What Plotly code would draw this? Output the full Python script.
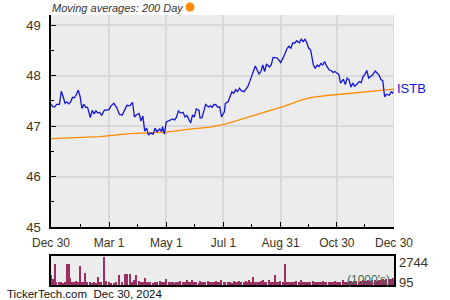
import plotly.graph_objects as go

close_dates = [
    "2023-12-30", "2024-01-01", "2024-01-03", "2024-01-05", "2024-01-08", "2024-01-10", "2024-01-12", "2024-01-14",
    "2024-01-16", "2024-01-18", "2024-01-20", "2024-01-22", "2024-01-24", "2024-01-26", "2024-01-28", "2024-01-30",
    "2024-02-01", "2024-02-03", "2024-02-05", "2024-02-07", "2024-02-10", "2024-02-12", "2024-02-14", "2024-02-16",
    "2024-02-18", "2024-02-20", "2024-02-22", "2024-02-25", "2024-02-27", "2024-03-01", "2024-03-03", "2024-03-06",
    "2024-03-09", "2024-03-12", "2024-03-15", "2024-03-18", "2024-03-20", "2024-03-23", "2024-03-26", "2024-03-28",
    "2024-03-30", "2024-04-02", "2024-04-04", "2024-04-06", "2024-04-08", "2024-04-10", "2024-04-12", "2024-04-14",
    "2024-04-17", "2024-04-19", "2024-04-21", "2024-04-24", "2024-04-26", "2024-04-27", "2024-04-29", "2024-05-01",
    "2024-05-04", "2024-05-06", "2024-05-08", "2024-05-10", "2024-05-12", "2024-05-14", "2024-05-16", "2024-05-19",
    "2024-05-21", "2024-05-23", "2024-05-25", "2024-05-27", "2024-05-29", "2024-05-31", "2024-06-02", "2024-06-05",
    "2024-06-06", "2024-06-08", "2024-06-10", "2024-06-12", "2024-06-15", "2024-06-17", "2024-06-19", "2024-06-21",
    "2024-06-23", "2024-06-25", "2024-06-27", "2024-06-29", "2024-07-02", "2024-07-03", "2024-07-06", "2024-07-08",
    "2024-07-10", "2024-07-12", "2024-07-14", "2024-07-16", "2024-07-18", "2024-07-20", "2024-07-23", "2024-07-25",
    "2024-07-27", "2024-07-29", "2024-07-31", "2024-08-02", "2024-08-04", "2024-08-06", "2024-08-08", "2024-08-10",
    "2024-08-12", "2024-08-14", "2024-08-16", "2024-08-19", "2024-08-21", "2024-08-23", "2024-08-25", "2024-08-27",
    "2024-08-29", "2024-08-31", "2024-09-03", "2024-09-05", "2024-09-07", "2024-09-09", "2024-09-11", "2024-09-13",
    "2024-09-15", "2024-09-17", "2024-09-20", "2024-09-22", "2024-09-24", "2024-09-26", "2024-09-28", "2024-09-30",
    "2024-10-02", "2024-10-05", "2024-10-07", "2024-10-09", "2024-10-11", "2024-10-13", "2024-10-15", "2024-10-17",
    "2024-10-19", "2024-10-22", "2024-10-24", "2024-10-26", "2024-10-28", "2024-10-30", "2024-11-01", "2024-11-03",
    "2024-11-06", "2024-11-08", "2024-11-10", "2024-11-12", "2024-11-14", "2024-11-16", "2024-11-18", "2024-11-20",
    "2024-11-23", "2024-11-25", "2024-11-27", "2024-11-29", "2024-12-01", "2024-12-03", "2024-12-05", "2024-12-07",
    "2024-12-10", "2024-12-12", "2024-12-14", "2024-12-16", "2024-12-18", "2024-12-20", "2024-12-22", "2024-12-25",
    "2024-12-27", "2024-12-29", "2024-12-30",
]

close_vals = [
    47.44, 47.38, 47.38, 47.43, 47.43, 47.69, 47.58, 47.45,
    47.48, 47.44, 47.48, 47.57, 47.56, 47.62, 47.71, 47.59,
    47.35, 47.43, 47.37, 47.37, 47.17, 47.31, 47.24, 47.30,
    47.26, 47.27, 47.21, 47.32, 47.31, 47.33, 47.40, 47.45,
    47.37, 47.23, 47.22, 47.35, 47.41, 47.40, 47.47, 47.18,
    47.22, 47.25, 47.10, 47.20, 46.90, 46.96, 46.82, 46.86,
    46.84, 46.96, 46.89, 46.94, 46.89, 46.99, 46.84, 47.08,
    47.10, 47.12, 47.14, 47.12, 47.18, 47.30, 47.26, 47.27,
    47.18, 47.21, 47.12, 47.06, 47.22, 47.18, 47.34, 47.31,
    47.16, 47.16, 47.29, 47.43, 47.38, 47.40, 47.37, 47.43,
    47.42, 47.37, 47.38, 47.18, 47.28, 47.45, 47.48, 47.58,
    47.68, 47.65, 47.72, 47.68, 47.75, 47.70, 47.68, 47.73,
    47.78, 47.88, 47.98, 48.05, 48.19, 48.11, 48.03, 48.08,
    48.21, 48.08, 48.23, 48.17, 48.21, 48.36, 48.35, 48.35,
    48.31, 48.26, 48.36, 48.46, 48.54, 48.58, 48.54, 48.65,
    48.64, 48.69, 48.65, 48.72, 48.67, 48.72, 48.65, 48.54,
    48.51, 48.21, 48.14, 48.21, 48.18, 48.24, 48.21, 48.28,
    48.19, 48.11, 48.10, 48.06, 48.08, 48.05, 48.03, 47.85,
    47.93, 47.82, 47.95, 47.92, 47.77, 47.85, 47.79, 47.82,
    47.88, 47.86, 47.98, 48.03, 48.10, 47.95, 47.98, 48.01,
    48.09, 48.05, 48.01, 47.92, 47.90, 47.58, 47.63, 47.61,
    47.68, 47.65, 47.74,
]

# volume in thousands, aligned with close_dates
volume_vals = [
    950, 570, 1990, 300, 250, 280, 220, 260,
    1990, 2050, 660, 250, 300, 400, 280, 1800,
    300, 330, 1200, 250, 300, 220, 260, 200,
    800, 250, 300, 2744, 350, 250, 200, 240,
    300, 950, 280, 1050, 1050, 1050, 300, 450,
    950, 350, 300, 250, 650, 300, 250, 280,
    220, 300, 250, 350, 280, 250, 300, 600,
    250, 300, 280, 220, 300, 260, 350, 300,
    250, 450, 300, 280, 500, 250, 300, 220,
    350, 280, 300, 250, 400, 280, 300, 250,
    350, 300, 260, 450, 300, 250, 300, 280,
    220, 350, 300, 250, 400, 300, 280, 350,
    300, 450, 300, 790, 280, 300, 250, 350,
    450, 300, 280, 500, 300, 250, 950, 300,
    280, 350, 300, 1990, 250, 300, 280, 250,
    300, 350, 300, 450, 300, 250, 280, 300,
    250, 350, 300, 280, 250, 300, 350, 280,
    300, 250, 300, 280, 350, 300, 250, 300,
    500, 300, 280, 350, 400, 300, 350, 400,
    300, 350, 450, 400, 350, 450, 400, 500,
    450, 400, 500, 450, 550, 500, 600, 550,
    600, 650, 550,
]

ma_dates = [
    "2023-12-30", "2024-02-20", "2024-03-23", "2024-04-14", "2024-05-01", "2024-05-26",
    "2024-06-17", "2024-07-03", "2024-07-29", "2024-08-20", "2024-09-05", "2024-09-21",
    "2024-10-03", "2024-10-17", "2024-11-02", "2024-11-24", "2024-12-15", "2024-12-30",
]
ma_vals = [
    46.75, 46.79, 46.85, 46.87, 46.88, 46.94,
    46.98, 47.04, 47.19, 47.32, 47.40, 47.51,
    47.57, 47.60, 47.63, 47.66, 47.70, 47.73,
]

tick_dates = ["2023-12-30", "2024-03-01", "2024-05-01", "2024-07-01", "2024-08-31", "2024-10-30", "2024-12-30"]
tick_labels = ["Dec 30", "Mar 1", "May 1", "Jul 1", "Aug 31", "Oct 30", "Dec 30"]
minor_tick_dates = ["2024-01-30", "2024-03-31", "2024-05-31", "2024-07-31", "2024-09-30", "2024-11-29"]
y_ticks = [45, 46, 47, 48, 49]
y_minor = [45.5, 46.5, 47.5, 48.5]
symbol = "ISTB"
vol_max, vol_min = 2744, 95

assert len(close_dates) == len(close_vals) == len(volume_vals)

FONT = "Liberation Sans, Arial, sans-serif"
TXT = "#3b3320"
GRID = "#d9d9d9"
BG = "#ececec"

fig = go.Figure()
fig.add_trace(go.Scatter(x=ma_dates, y=ma_vals, mode="lines",
                         line=dict(color="#ff8c00", width=1.3), xaxis="x", yaxis="y"))
fig.add_trace(go.Scatter(x=close_dates, y=close_vals, mode="lines",
                         line=dict(color="#1414d8", width=1.3), xaxis="x", yaxis="y"))
fig.add_trace(go.Bar(x=close_dates, y=volume_vals, marker=dict(color="#9b2f62", line=dict(width=0)),
                     width=1.5 * 86400000, xaxis="x2", yaxis="y2"))

x0, x1 = 51 / 450, 394 / 450
xr = ["2023-12-30", "2024-12-30"]

fig.update_layout(
    width=450, height=300, margin=dict(l=0, r=0, t=0, b=0, autoexpand=False),
    paper_bgcolor="white", plot_bgcolor=BG, showlegend=False, bargap=0,
    font=dict(family=FONT, size=12, color=TXT),
    xaxis=dict(domain=[x0, x1], range=xr, type="date", tickmode="array",
               tickvals=tick_dates, ticktext=tick_labels, ticks="inside", ticklen=5,
               tickcolor="black", tickwidth=1, showgrid=True, gridcolor=GRID, gridwidth=1.5,
               showline=True, linecolor="black", linewidth=1.5, zeroline=False,
               ticklabelstandoff=4, tickfont=dict(size=12, color=TXT), automargin=False,
               minor=dict(tickvals=minor_tick_dates, ticks="inside", ticklen=3,
                          tickcolor="black", showgrid=False),
               anchor="y", fixedrange=True),
    yaxis=dict(domain=[1 - 227 / 300, 1 - 15 / 300], range=[45, 49.2], tickmode="array",
               tickvals=y_ticks, ticks="inside", ticklen=5, tickcolor="black",
               showgrid=True, gridcolor=GRID, gridwidth=1.5, showline=True,
               linecolor="black", linewidth=1.5, zeroline=False, automargin=False,
               ticklabelstandoff=6, tickfont=dict(size=13, color=TXT),
               minor=dict(tickvals=y_minor, ticks="inside", ticklen=3,
                          tickcolor="black", showgrid=False),
               anchor="x", fixedrange=True),
    xaxis2=dict(domain=[x0, x1], range=xr, type="date", showticklabels=False,
                ticks="", showgrid=False, showline=True, mirror=True, automargin=False,
                linecolor="black", linewidth=1.5, zeroline=False, anchor="y2"),
    yaxis2=dict(domain=[1 - 285 / 300, 1 - 256 / 300], range=[0, 2800],
                showticklabels=False, ticks="", showgrid=False, showline=True, automargin=False,
                mirror=True, linecolor="black", linewidth=1.5, zeroline=False, anchor="x2"),
)

# vertical gridline at right edge of main plot
fig.add_shape(type="line", xref="x", yref="paper", x0=xr[1], x1=xr[1],
              y0=1 - 227 / 300, y1=1 - 15 / 300, line=dict(color=GRID, width=1.5))

annotations = [
    dict(text="Moving averages: 200 Day", x=50 / 450, y=1 - 8 / 300, xref="paper", yref="paper",
         xanchor="left", yanchor="middle", showarrow=False,
         font=dict(size=11, color="#333333", family=FONT, style="italic")),
    dict(text=symbol, x=xr[1], y=close_vals[-1], xref="x", yref="y", xanchor="left",
         yanchor="middle", xshift=1, showarrow=False, font=dict(size=13, color="#1414d8")),
    dict(text=str(vol_max), x=397 / 450, y=1 - 262 / 300, xref="paper", yref="paper",
         xanchor="left", yanchor="middle", showarrow=False, font=dict(size=13, color=TXT)),
    dict(text=str(vol_min), x=397 / 450, y=1 - 282 / 300, xref="paper", yref="paper",
         xanchor="left", yanchor="middle", showarrow=False, font=dict(size=13, color=TXT)),
    dict(text="(1000's)", x=392 / 450, y=1 - 280 / 300, xref="paper", yref="paper",
         xanchor="right", yanchor="middle", showarrow=False, font=dict(size=12, color="#3d6b57")),
    dict(text="TickerTech.com  Dec 30, 2024", x=5 / 450, y=1 - 294 / 300, xref="paper", yref="paper",
         xanchor="left", yanchor="middle", showarrow=False, font=dict(size=11.5, color="#111111")),
]
fig.update_layout(annotations=annotations)

fig.add_shape(type="circle", xref="paper", yref="paper",
              x0=185.5 / 450, x1=194.5 / 450, y0=1 - 11.5 / 300, y1=1 - 2.5 / 300,
              fillcolor="#ff8c00", line=dict(width=0))

fig.write_html("out.html")
